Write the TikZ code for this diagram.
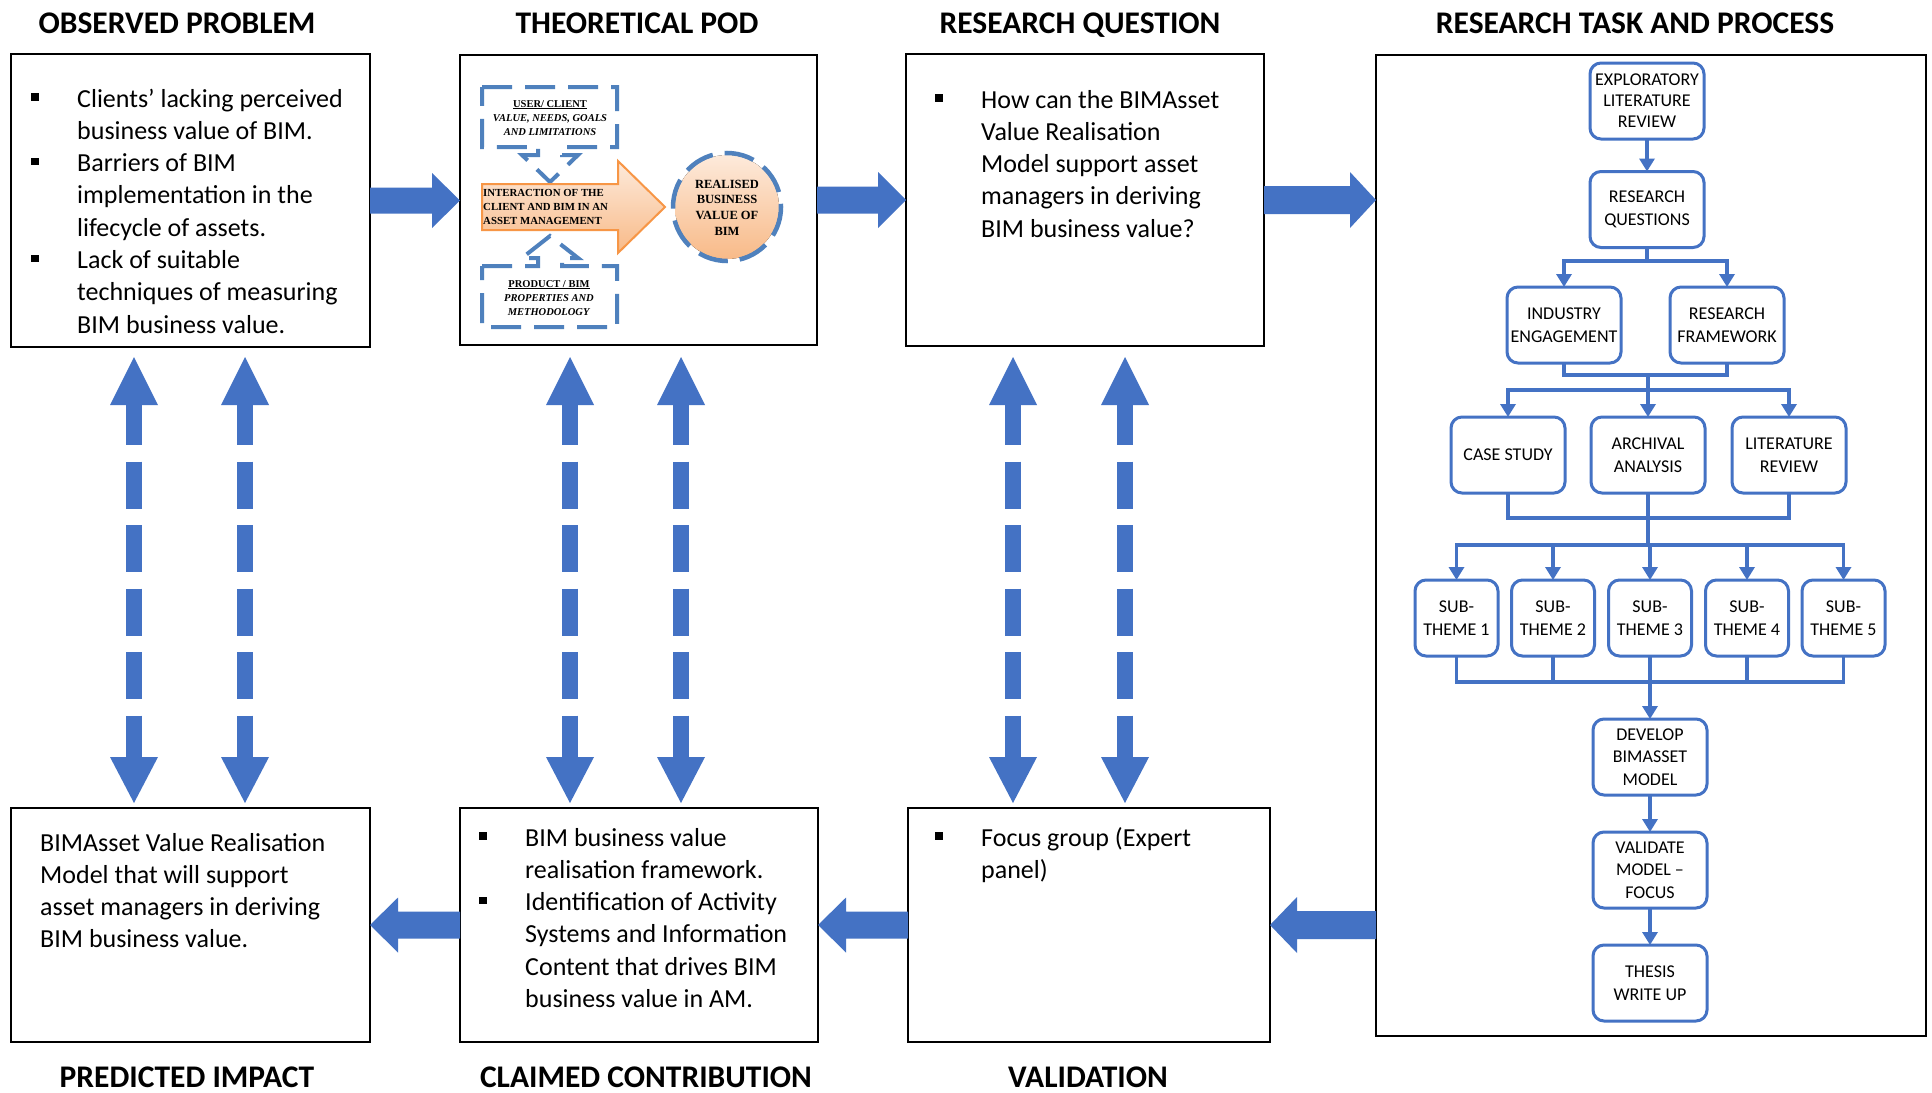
\documentclass[tikz,border=0pt]{standalone}
\usepackage{fontspec}
\setmainfont{Carlito}
\newfontfamily\podfont{Liberation Serif}
\usetikzlibrary{calc,arrows.meta}

\definecolor{bimblue}{HTML}{4472C4}
\definecolor{podblue}{HTML}{4F81BD}
\definecolor{podorange}{HTML}{F79646}
\definecolor{peachlight}{HTML}{FDEADB}
\definecolor{peachdark}{HTML}{F8BA88}

% square list bullet hung to the left of the text column
\newcommand{\sqb}{\leavevmode\llap{\rule[6.5pt]{7.5pt}{7.5pt}\hspace{38.5pt}}}

% horizontal block arrow: tail, tip, shaft half-height, head half-height, head length
\newcommand{\hblock}[5]{%
  \fill[bimblue] let \p1=(#1), \p2=(#2), \p3=($(#2)!#5!(#1)$) in
    (\x1,{\y1+#3}) -- (\x3,{\y1+#3}) -- (\x3,{\y1+#4}) -- (\x2,\y1) --
    (\x3,{\y1-#4}) -- (\x3,{\y1-#3}) -- (\x1,{\y1-#3}) -- cycle;}

% vertical dashed double-headed arrow between two tips
\newcommand{\vdouble}[2]{%
  \fill[bimblue] let \p1=(#1) in (\p1) -- ({\x1+24pt},{\y1-48pt}) -- ({\x1-24pt},{\y1-48pt}) -- cycle;
  \fill[bimblue] let \p2=(#2) in (\p2) -- ({\x2+24pt},{\y2+46pt}) -- ({\x2-24pt},{\y2+46pt}) -- cycle;
  \draw[bimblue, line width=16pt, dash pattern=on 47pt off 16.5pt, dash phase=6pt]
    let \p1=(#1), \p2=(#2) in (\x1,{\y1-47pt}) -- (\x2,{\y2+45pt});}

\tikzset{
  panel/.style={draw=black, line width=2.6pt, inner sep=0pt, outer sep=0pt, anchor=north west},
  heading/.style={anchor=base, inner sep=0pt, font=\fontsize{31.5}{36}\selectfont\bfseries},
  bodytext/.style={anchor=base west, inner sep=0pt, font=\fontsize{26}{32.3}\selectfont},
  stage/.style={draw=bimblue, line width=3pt, rounded corners=11pt, minimum width=114pt,
    minimum height=76pt, align=center, inner sep=0pt, outer sep=0pt,
    font=\fontsize{18}{22.5}\selectfont},
  subtheme/.style={stage, minimum width=83pt},
  flowline/.style={draw=bimblue, line width=3.5pt},
  flowtip/.tip={Triangle[width=15pt,length=13pt]},
  poddash/.style={draw=podblue, line width=4pt, dash pattern=on 30pt off 13pt},
  podlabel/.style={anchor=base, inner sep=0pt, font=\podfont\bfseries\fontsize{10.5}{14}\selectfont},
}

\begin{document}
\begin{tikzpicture}[x=1pt,y=-1pt]
\fill[white] (0,0) rectangle (1932,1092);
\useasboundingbox (0,0) rectangle (1932,1092);

% ---------- headings ----------
\node[heading] (h1) at (177,33) {OBSERVED PROBLEM};
\node[heading] (h2) at (637,33) {THEORETICAL POD};
\node[heading] (h3) at (1080,33) {RESEARCH QUESTION};
\node[heading] (h4) at (1635,33) {RESEARCH TASK AND PROCESS};
\node[heading] (h5) at (187,1087) {PREDICTED IMPACT};
\node[heading] (h6) at (646,1087) {CLAIMED CONTRIBUTION};
\node[heading] (h7) at (1088,1087) {VALIDATION};

% ---------- panels ----------
\node[panel, minimum width=359pt, minimum height=293pt] (b1) at (11,54) {};
\node[panel, minimum width=357pt, minimum height=290pt] (b2) at (460,55) {};
\node[panel, minimum width=358pt, minimum height=292pt] (b3) at (906,54) {};
\node[panel, minimum width=550pt, minimum height=981pt] (b4) at (1376,55) {};
\node[panel, minimum width=359pt, minimum height=234pt] (b5) at (11,808) {};
\node[panel, minimum width=358pt, minimum height=234pt] (b6) at (460,808) {};
\node[panel, minimum width=362pt, minimum height=234pt] (b7) at (908,808) {};

% ---------- panel texts ----------
\node[bodytext] (t1) at (77,107) {\begin{minipage}[t]{290pt}\raggedright
  \sqb Clients’ lacking perceived\\
  business value of BIM.\\
  \sqb Barriers of BIM\\
  implementation in the\\
  lifecycle of assets.\\
  \sqb Lack of suitable\\
  techniques of measuring\\
  BIM business value.\end{minipage}};

\node[bodytext] (t3) at (981,108) {\begin{minipage}[t]{280pt}\raggedright
  \sqb How can the BIMAsset\\
  Value Realisation\\
  Model support asset\\
  managers in deriving\\
  BIM business value?\end{minipage}};

\node[bodytext] (t5) at (40,851) {\begin{minipage}[t]{325pt}\raggedright
  BIMAsset Value Realisation\\
  Model that will support\\
  asset managers in deriving\\
  BIM business value.\end{minipage}};

\node[bodytext] (t6) at (525,846) {\begin{minipage}[t]{290pt}\raggedright
  \sqb BIM business value\\
  realisation framework.\\
  \sqb Identification of Activity\\
  Systems and Information\\
  Content that drives BIM\\
  business value in AM.\end{minipage}};

\node[bodytext] (t7) at (981,846) {\begin{minipage}[t]{285pt}\raggedright
  \sqb Focus group (Expert\\
  panel)\end{minipage}};

% ---------- theoretical pod graphic ----------
\draw[poddash] (482,87) -- (617,87) -- (617,147) -- (562,147) -- (562,155) -- (578,155)
  -- (550,182) -- (522,155) -- (538,155) -- (538,147) -- (482,147) -- cycle;
\draw[poddash] (482,266) -- (538,266) -- (538,258) -- (522,258) -- (550,236) -- (578,258)
  -- (562,258) -- (562,266) -- (617,266) -- (617,327) -- (482,327) -- cycle;
\draw[draw=podorange, line width=2pt, top color=peachlight, bottom color=peachdark]
  (482,184) -- (618,184) -- (618,161) -- (665,207) -- (618,253) -- (618,230) -- (482,230) -- cycle;
\fill[top color=peachlight, bottom color=peachdark] (727,207) circle (52);
\draw[draw=podblue, line width=4.5pt, dash pattern=on 30pt off 12pt] (727,207) circle (54);

\node[podlabel] (usr) at (550,107) {\begin{minipage}[t]{150pt}\centering
  \underline{USER/ CLIENT}\\ \textit{VALUE, NEEDS, GOALS}\\ \textit{AND LIMITATIONS}\end{minipage}};
\node[podlabel] (prd) at (549,287) {\begin{minipage}[t]{150pt}\centering
  \underline{PRODUCT / BIM}\\ \textit{PROPERTIES AND}\\ \textit{METHODOLOGY}\end{minipage}};
\node[podlabel, anchor=base west, font=\podfont\bfseries\fontsize{10.8}{14}\selectfont] (iam) at (483,196)
  {\begin{minipage}[t]{140pt}\raggedright
  INTERACTION OF THE\\ CLIENT AND BIM IN AN\\ ASSET MANAGEMENT\end{minipage}};
\node[podlabel, font=\podfont\bfseries\fontsize{12.5}{15.7}\selectfont] (rbv) at (727,188)
  {\begin{minipage}[t]{100pt}\centering REALISED\\ BUSINESS\\ VALUE OF\\ BIM\end{minipage}};

% ---------- block arrows between panels ----------
\hblock{b1.east}{b2.west}{13pt}{27.5pt}{28pt}
\hblock{b2.east}{b3.west}{13.5pt}{28pt}{28pt}
\hblock{b3.east}{b4.west |- b3.east}{14pt}{28pt}{26pt}
\hblock{b4.west |- b7.east}{b7.east}{14pt}{28pt}{27pt}
\hblock{b7.west}{b6.east}{13.5pt}{27.5pt}{28pt}
\hblock{b6.west}{b5.east}{13.5pt}{27.5pt}{28pt}

% ---------- dashed feedback arrows ----------
\coordinate (a1t) at (134,357);  \coordinate (a1b) at (134,803);
\coordinate (a2t) at (245,357);  \coordinate (a2b) at (245,803);
\coordinate (a3t) at (570,357);  \coordinate (a3b) at (570,803);
\coordinate (a4t) at (681,357);  \coordinate (a4b) at (681,803);
\coordinate (a5t) at (1013,357); \coordinate (a5b) at (1013,803);
\coordinate (a6t) at (1125,357); \coordinate (a6b) at (1125,803);
\vdouble{a1t}{a1b}
\vdouble{a2t}{a2b}
\vdouble{a3t}{a3b}
\vdouble{a4t}{a4b}
\vdouble{a5t}{a5b}
\vdouble{a6t}{a6b}

% ---------- research process flow ----------
\node[stage] (elr) at (1647,101) {EXPLORATORY\\[-1.5pt] LITERATURE\\[-1.5pt] REVIEW};
\node[stage] (rq)  at (1647,209.5) {RESEARCH\\ QUESTIONS};
\node[stage] (ie)  at (1564,325) {INDUSTRY\\ ENGAGEMENT};
\node[stage] (rf)  at (1727,325) {RESEARCH\\ FRAMEWORK};
\node[stage] (cs)  at (1508,455) {CASE STUDY};
\node[stage] (aa)  at (1648,455) {ARCHIVAL\\ ANALYSIS};
\node[stage] (lr)  at (1789,455) {LITERATURE\\ REVIEW};
\node[subtheme] (st1) at (1456.5,618) {SUB-\\ THEME 1};
\node[subtheme] (st2) at (1553,618) {SUB-\\ THEME 2};
\node[subtheme] (st3) at (1650,618) {SUB-\\ THEME 3};
\node[subtheme] (st4) at (1747,618) {SUB-\\ THEME 4};
\node[subtheme] (st5) at (1843.5,618) {SUB-\\ THEME 5};
\node[stage] (dbm) at (1650,757) {DEVELOP\\ BIMASSET\\ MODEL};
\node[stage] (vmf) at (1650,870) {VALIDATE\\ MODEL --\\ FOCUS};
\node[stage] (twu) at (1650,983) {THESIS\\ WRITE UP};

\coordinate (j1) at (1647,261);
\coordinate (j2) at (1648,375);
\coordinate (j3) at (1648,390);
\coordinate (j4) at (1648,518);
\coordinate (j5) at (1648,545);
\coordinate (j6) at (1650,682);

\draw[flowline, -flowtip] (elr) -- (rq);
\draw[flowline] (rq.south) -- (j1);
\draw[flowline, -flowtip] (j1) -| (ie.north);
\draw[flowline, -flowtip] (j1) -| (rf.north);
\draw[flowline] (ie.south) |- (j2) -| (rf.south);
\draw[flowline] (j2) -- (j3);
\draw[flowline, -flowtip] (j3) -| (cs.north);
\draw[flowline, -flowtip] (j3) -- (aa.north);
\draw[flowline, -flowtip] (j3) -| (lr.north);
\draw[flowline] (cs.south) |- (j4) -| (lr.south);
\draw[flowline] (aa.south) -- (j5);
\foreach \s in {st1,st2,st3,st4,st5}
  \draw[flowline, -flowtip] (j5) -| (\s.north);
\draw[flowline] (st1.south) |- (j6) -| (st5.south);
\draw[flowline] (st2.south) -- (st2.south |- j6);
\draw[flowline] (st4.south) -- (st4.south |- j6);
\draw[flowline, -flowtip] (st3.south) -- (dbm.north);
\draw[flowline, -flowtip] (dbm) -- (vmf);
\draw[flowline, -flowtip] (vmf) -- (twu);
\end{tikzpicture}
\end{document}
